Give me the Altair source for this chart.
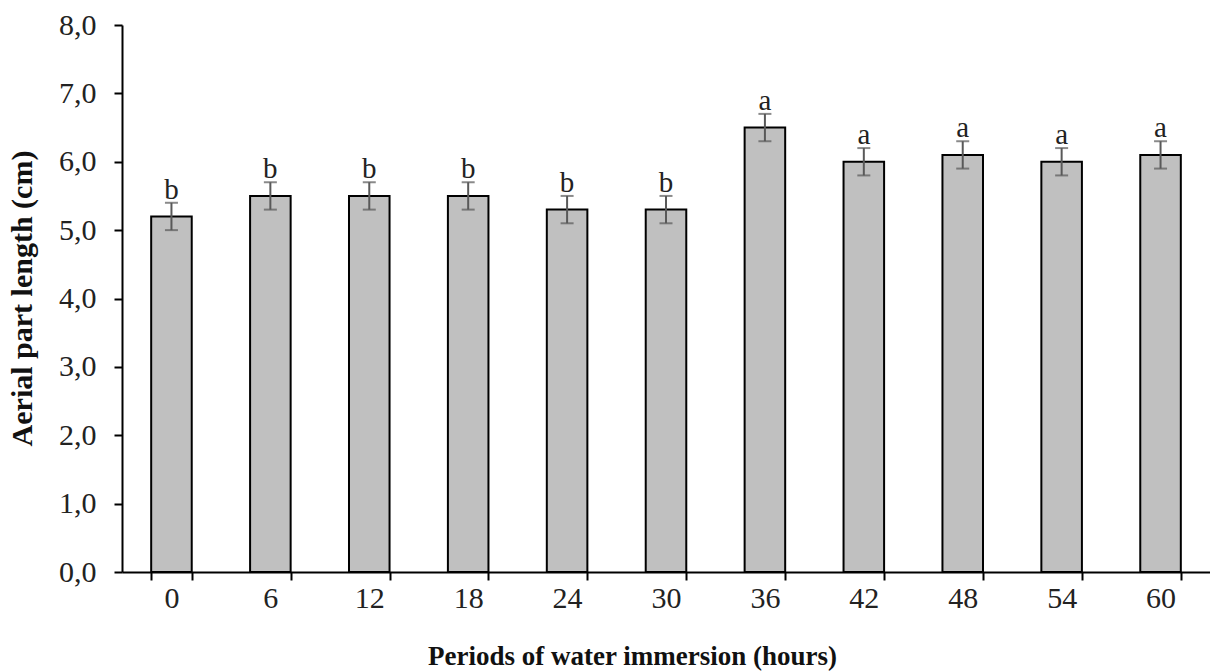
import altair as alt
import pandas as pd

periods = ["0", "6", "12", "18", "24", "30", "36", "42", "48", "54", "60"]
means = [5.2, 5.5, 5.5, 5.5, 5.3, 5.3, 6.5, 6.0, 6.1, 6.0, 6.1]
errors = [0.2, 0.2, 0.2, 0.2, 0.2, 0.2, 0.2, 0.2, 0.2, 0.2, 0.2]
letters = ["b", "b", "b", "b", "b", "b", "a", "a", "a", "a", "a"]
y_ticks = [0, 1, 2, 3, 4, 5, 6, 7, 8]

df = pd.DataFrame({"period": periods, "mean": means, "err": errors, "letter": letters})
df["lo"] = df["mean"] - df["err"]
df["hi"] = df["mean"] + df["err"]

FONT = "Liberation Serif"

x_enc = alt.X(
    "period:N",
    sort=periods,
    scale=alt.Scale(paddingInner=0.59, paddingOuter=0.295),
    axis=alt.Axis(
        title="Periods of water immersion (hours)",
        tickBand="extent",
        labelAngle=0,
        labelFont=FONT,
        labelFontSize=30,
        labelColor="#222",
        labelPadding=3,
        titleFont=FONT,
        titleFontSize=27,
        titleFontWeight="bold",
        titleColor="#111",
        titleX=510,
        titleY=92,
        titleBaseline="alphabetic",
        titleAnchor="middle",
        titleAlign="center",
        domainColor="black",
        domainWidth=2,
        tickColor="black",
        tickWidth=2,
        tickSize=8,
    ),
)

y_scale = alt.Scale(domain=[0, 8], nice=False)
y_axis = alt.Axis(
    title="Aerial part length (cm)",
    values=y_ticks,
    labelExpr="replace(format(datum.value, '.1f'), '.', ',')",
    grid=False,
    labelFont=FONT,
    labelFontSize=30,
    labelColor="#222",
    labelPadding=18,
    titleFont=FONT,
    titleFontSize=30,
    titleFontWeight="bold",
    titleColor="#111",
    titleX=-100,
    titleY=273,
    titleBaseline="middle",
    titleAlign="center",
    domainColor="black",
    domainWidth=2,
    tickColor="black",
    tickWidth=2,
    tickSize=8,
)

base = alt.Chart(df)

bars = base.mark_bar(fill="#c0c0c0", stroke="black", strokeWidth=2).encode(
    x=x_enc,
    y=alt.Y("mean:Q", scale=y_scale, axis=y_axis),
)

rules = base.mark_rule(color="#595959", strokeWidth=2).encode(
    x=alt.X("period:N", sort=periods),
    y="lo:Q",
    y2="hi:Q",
)

caps_lo = base.mark_tick(color="#595959", thickness=2, size=13).encode(
    x=alt.X("period:N", sort=periods),
    y="lo:Q",
)
caps_hi = base.mark_tick(color="#595959", thickness=2, size=13).encode(
    x=alt.X("period:N", sort=periods),
    y="hi:Q",
)

labels = base.mark_text(
    font=FONT, fontSize=29, color="#222", baseline="alphabetic", dy=-4
).encode(
    x=alt.X("period:N", sort=periods),
    y="hi:Q",
    text="letter:N",
)

chart = (
    alt.layer(bars, rules, caps_lo, caps_hi, labels)
    .properties(
        width=1088,
        height=547,
        autosize=alt.AutoSizeParams(type="none"),
        padding={"left": 122, "top": 25, "right": 0, "bottom": 100},
        background="white",
    )
    .configure_view(stroke=None)
)

chart.save("out.html", embed_options={"renderer": "svg", "actions": False})
